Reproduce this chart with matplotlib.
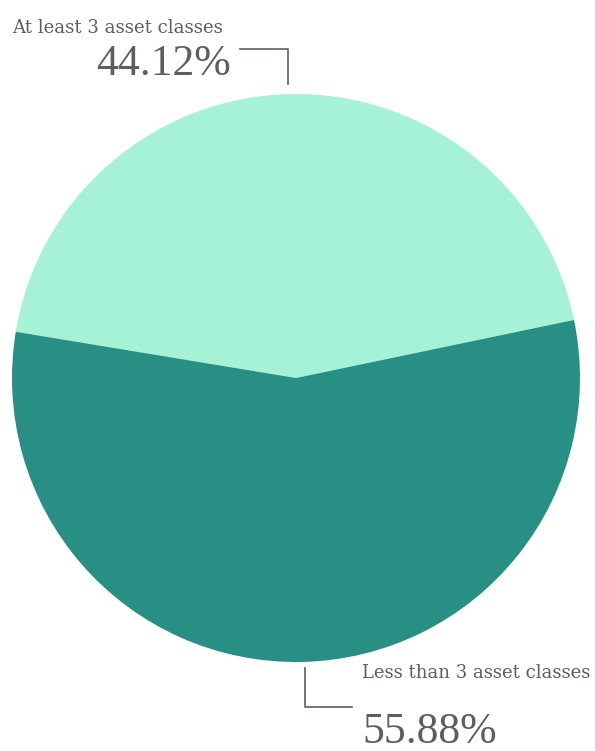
import matplotlib
matplotlib.use("Agg")
import matplotlib.pyplot as plt

labels = ["At least 3 asset classes", "Less than 3 asset classes"]
shares = [44.12, 55.88]
colors = ["#a6f2d6", "#288f84"]

W, H = 595, 751
fig = plt.figure(figsize=(W / 100, H / 100), dpi=100)
fig.patch.set_facecolor("white")

# axes in pixel units, centred on the pie
cx, cy, half = 296, 378, 300
ax = fig.add_axes([(cx - half) / W, (H - cy - half) / H, 2 * half / W, 2 * half / H])

ax.pie(shares, colors=colors, startangle=11.8, counterclock=True,
       radius=284, center=(0, 0), wedgeprops=dict(linewidth=0))
ax.set_xlim(-half, half)
ax.set_ylim(-half, half)
ax.set_aspect("equal")
ax.axis("off")

def px(x, y):
    return x - cx, cy - y

txt = "#625c5c"
line = "#625c5c"
small_font = "DejaVu Serif"
big_font = "Liberation Serif"

# top label
ax.text(*px(12, 33), labels[0], fontsize=13.1, family=small_font, color=txt,
        ha="left", va="baseline", clip_on=False)
ax.text(*px(231, 75), f"{shares[0]:.2f}%", fontsize=31.5, family=big_font, color=txt,
        ha="right", va="baseline", clip_on=False)
xs, ys = zip(px(240, 49), px(288, 49), px(288, 84))
ax.plot(xs, ys, color=line, lw=1.2, clip_on=False)

# bottom label
ax.text(*px(362, 678), labels[1], fontsize=13.0, family=small_font, color=txt,
        ha="left", va="baseline", clip_on=False)
ax.text(*px(362, 743), f"{shares[1]:.2f}%", fontsize=31.5, family=big_font, color=txt,
        ha="left", va="baseline", clip_on=False)
xs, ys = zip(px(305, 668), px(305, 707), px(352, 707))
ax.plot(xs, ys, color=line, lw=1.2, clip_on=False)

fig.savefig("out.png", dpi=100, facecolor="white")
